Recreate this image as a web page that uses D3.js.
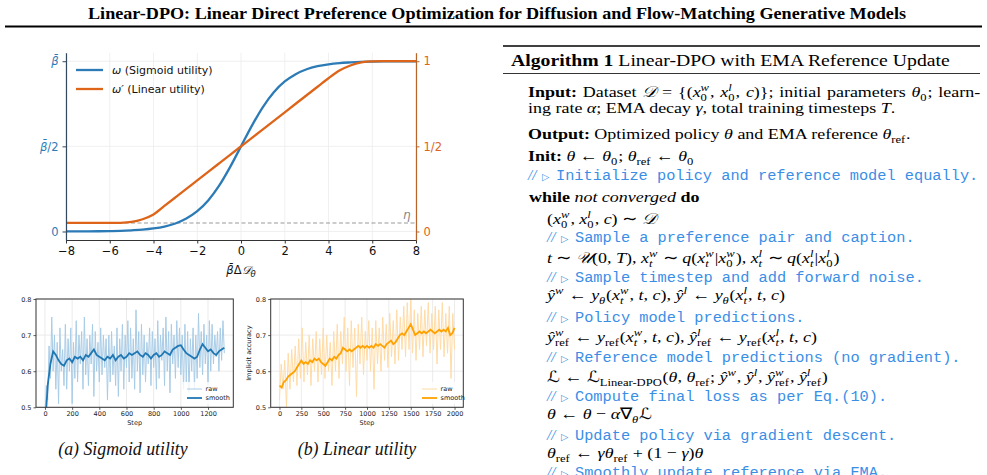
<!DOCTYPE html>
<html>
<head>
<meta charset="utf-8">
<script src="https://cdn.jsdelivr.net/npm/d3@7"></script>
<style>
body { margin: 0; background: #fff; }
svg text { white-space: pre; }
</style>
</head>
<body>
<div id="page"></div>
<script>
// ---- top chart: utility weights ----
const uX = [-8,-7.5,-7,-6.5,-6,-5.5,-5,-4.5,-4,-3.5,-3,-2.5,-2,-1.5,-1,-0.5,0,0.5,1,1.5,2,2.5,3,3.5,4,4.5,5,5.5,6,6.5,7,7.5,8];
const sigmoidW = [0.0003,0.0006,0.0009,0.0015,0.0025,0.004,0.007,0.011,0.018,0.029,0.047,0.076,0.119,0.182,0.269,0.378,0.5,0.622,0.731,0.818,0.881,0.924,0.953,0.971,0.982,0.989,0.993,0.996,0.9975,0.9985,0.9991,0.9994,0.9997];
const linearW = [0.05,0.05,0.05,0.05,0.05,0.051,0.056,0.072,0.10,0.15,0.20,0.25,0.30,0.35,0.40,0.45,0.5,0.55,0.60,0.65,0.70,0.75,0.80,0.85,0.90,0.945,0.975,0.993,0.999,1,1,1,1];
const eta = 0.05;
const uXTicks = [-8,-6,-4,-2,0,2,4,6,8];
const uYTicks = [0,0.5,1];
const leftTickLabels = [['0',''],['β̄','/2'],['β̄','']];
const rightTickLabels = ['0','1/2','1'];
const utilLegend = [['ω',' (Sigmoid utility)'],['ω′',' (Linear utility)']];

// ---- bottom charts: implicit accuracy ----
const accYTicks = [0.5,0.6,0.7,0.8];
const sigTicks = [0,200,400,600,800,1000,1200];
const linTicks = [0,250,500,750,1000,1250,1500,1750,2000];
const sigRawStep = 10;
const sigRaw = [0.48,0.56,0.52,0.67,0.58,0.75,0.60,0.70,0.55,0.68,0.51,0.72,0.60,0.66,0.56,0.73,0.55,0.69,0.60,0.72,
  0.51,0.68,0.58,0.74,0.57,0.70,0.62,0.71,0.55,0.75,0.59,0.69,0.56,0.70,0.62,0.73,0.53,0.71,0.60,0.68,
  0.57,0.72,0.59,0.70,0.61,0.69,0.52,0.70,0.57,0.71,0.59,0.67,0.56,0.72,0.53,0.69,0.60,0.73,0.55,0.70,
  0.61,0.74,0.57,0.72,0.58,0.69,0.55,0.77,0.60,0.71,0.54,0.73,0.59,0.70,0.57,0.68,0.62,0.72,0.56,0.71,
  0.61,0.69,0.55,0.74,0.58,0.70,0.63,0.72,0.56,0.75,0.60,0.71,0.54,0.73,0.62,0.70,0.58,0.74,0.61,0.72,
  0.59,0.70,0.55,0.73,0.57,0.71,0.54,0.69,0.60,0.72,0.55,0.70,0.58,0.76,0.61,0.71,0.59,0.73,0.62,0.70,
  0.56,0.74,0.60,0.73,0.62,0.70,0.64,0.71,0.60,0.72,0.63,0.74,0.65];
const sigSmoothStep = 20;
const sigSmooth = [0.44,0.56,0.62,0.655,0.645,0.63,0.62,0.615,0.63,0.635,0.625,0.64,0.635,0.64,0.63,0.645,0.64,0.65,0.66,0.645,
  0.64,0.635,0.63,0.64,0.635,0.645,0.63,0.64,0.645,0.635,0.64,0.65,0.645,0.65,0.655,0.645,0.64,0.65,0.645,0.635,
  0.645,0.65,0.64,0.645,0.655,0.65,0.645,0.66,0.665,0.67,0.672,0.66,0.65,0.645,0.64,0.635,0.64,0.66,0.675,0.665,
  0.655,0.66,0.65,0.645,0.655,0.66,0.665];
const linRawStep = 20;
const linRaw = [0.52,0.62,0.55,0.63,0.50,0.65,0.55,0.66,0.57,0.67,0.56,0.69,0.58,0.72,0.57,0.68,0.59,0.70,0.56,0.69,
  0.60,0.71,0.57,0.69,0.59,0.72,0.58,0.70,0.60,0.68,0.56,0.71,0.60,0.73,0.58,0.71,0.62,0.75,0.60,0.72,
  0.56,0.74,0.61,0.72,0.53,0.73,0.62,0.75,0.59,0.71,0.63,0.74,0.60,0.72,0.55,0.74,0.62,0.72,0.60,0.75,
  0.63,0.73,0.61,0.76,0.64,0.74,0.62,0.77,0.63,0.75,0.66,0.78,0.64,0.79,0.66,0.80,0.65,0.77,0.63,0.76,
  0.66,0.78,0.64,0.77,0.67,0.79,0.65,0.76,0.66,0.78,0.62,0.77,0.66,0.79,0.64,0.76,0.65,0.78,0.58,0.76,0.66];
const linSmoothStep = 25;
const linSmooth = [0.56,0.555,0.57,0.575,0.585,0.59,0.595,0.60,0.61,0.62,0.63,0.62,0.625,0.62,0.63,0.625,0.635,0.63,0.635,0.625,
  0.62,0.615,0.625,0.635,0.63,0.64,0.635,0.645,0.65,0.665,0.66,0.655,0.66,0.655,0.66,0.665,0.67,0.665,0.67,0.665,
  0.67,0.665,0.67,0.665,0.675,0.67,0.675,0.67,0.665,0.675,0.68,0.685,0.675,0.68,0.69,0.70,0.705,0.70,0.71,0.72,
  0.73,0.715,0.70,0.705,0.71,0.705,0.71,0.705,0.71,0.715,0.71,0.705,0.71,0.715,0.71,0.715,0.71,0.72,0.70,0.705,0.72];

const TITLE = 'Linear-DPO: Linear Direct Preference Optimization for Diffusion and Flow-Matching Generative Models';
const SERIF = "'Liberation Serif','Times New Roman',serif";
const SANS = "'DejaVu Sans',sans-serif";
const MONO = "'Liberation Mono','Courier New',monospace";
const CAL = "'DejaVu Serif','DejaVu Sans','Noto Sans',serif";
const BLUE = '#2c7bb6', ORANGE = '#dd6418';

const svg = d3.select('#page').append('svg').attr('width', 987).attr('height', 475);
svg.append('rect').attr('width', 987).attr('height', 475).attr('fill', '#fff');

svg.append('text').attr('x', 497).attr('y', 19).attr('text-anchor', 'middle')
  .attr('font-family', SERIF).attr('font-weight', 'bold').attr('font-size', 16.5)
  .attr('textLength', 818).attr('lengthAdjust', 'spacingAndGlyphs').text(TITLE);
svg.append('line').attr('x1', 5).attr('x2', 982).attr('y1', 26.5).attr('y2', 26.5)
  .attr('stroke', '#000').attr('stroke-width', 2);

// ---------------- top chart ----------------
const tx = d3.scaleLinear().domain([-8, 8]).range([66, 416]);
const ty = d3.scaleLinear().domain([-0.05, 1.05]).range([240, 52.7]);
const topG = svg.append('g');

topG.selectAll('.gx').data(uXTicks).join('line')
  .attr('x1', d => tx(d)).attr('x2', d => tx(d)).attr('y1', ty(1.05)).attr('y2', ty(-0.05))
  .attr('stroke', '#ececec').attr('stroke-width', 0.8);
topG.selectAll('.gy').data(uYTicks).join('line')
  .attr('x1', tx(-8)).attr('x2', tx(8)).attr('y1', d => ty(d)).attr('y2', d => ty(d))
  .attr('stroke', '#ececec').attr('stroke-width', 0.8);

topG.append('line').attr('x1', tx(-8)).attr('x2', tx(8)).attr('y1', ty(eta)).attr('y2', ty(eta))
  .attr('stroke', '#999').attr('stroke-width', 1.1).attr('stroke-dasharray', '4,2.5');
topG.append('text').attr('x', 403).attr('y', 219).attr('font-family', SANS).attr('font-style', 'italic')
  .attr('font-size', 12).attr('fill', '#888').text('η');

const uLine = d3.line().x((d, i) => tx(uX[i])).y(d => ty(d)).curve(d3.curveMonotoneX);
topG.append('path').attr('d', uLine(sigmoidW)).attr('fill', 'none').attr('stroke', BLUE).attr('stroke-width', 2.3);
topG.append('path').attr('d', uLine(linearW)).attr('fill', 'none').attr('stroke', ORANGE).attr('stroke-width', 2.3);

const axB = topG.append('g').attr('transform', `translate(0,${ty(-0.05)})`)
  .call(d3.axisBottom(tx).tickValues(uXTicks).tickSize(3.5).tickSizeOuter(0).tickPadding(3));
axB.select('.domain').attr('stroke', '#333').attr('stroke-width', 1.2);
axB.selectAll('.tick line').attr('stroke', '#333');
axB.selectAll('text').attr('font-family', SANS).attr('font-size', 11.5).attr('fill', '#111');

const axL = topG.append('g').attr('transform', `translate(${tx(-8)},0)`)
  .call(d3.axisLeft(ty).tickValues(uYTicks).tickSize(3.5).tickSizeOuter(0).tickPadding(4).tickFormat(''));
axL.select('.domain').attr('stroke', '#34495e').attr('stroke-width', 1.2);
axL.selectAll('.tick line').attr('stroke', '#34495e');
axL.selectAll('.tick text').each(function (d, i) {
  const t = d3.select(this).attr('font-family', SANS).attr('font-size', 11.5).attr('fill', BLUE);
  const parts = leftTickLabels[i];
  t.append('tspan').attr('font-style', parts[0] === '0' ? 'normal' : 'italic').text(parts[0]);
  if (parts[1]) t.append('tspan').text(parts[1]);
});

const axR = topG.append('g').attr('transform', `translate(${tx(8)},0)`)
  .call(d3.axisRight(ty).tickValues(uYTicks).tickSize(3.5).tickSizeOuter(0).tickPadding(4)
    .tickFormat((d, i) => rightTickLabels[i]));
axR.select('.domain').attr('stroke', '#b8652c').attr('stroke-width', 1.2);
axR.selectAll('.tick line').attr('stroke', '#b8652c');
axR.selectAll('text').attr('font-family', SANS).attr('font-size', 11.5).attr('fill', ORANGE);

// x label
const xl = topG.append('text').attr('x', tx(0)).attr('y', 274).attr('text-anchor', 'middle')
  .attr('font-family', SANS).attr('font-size', 11.5).attr('fill', '#111');
xl.append('tspan').attr('font-style', 'italic').text('β̄');
xl.append('tspan').text('Δ');
xl.append('tspan').attr('font-family', CAL).attr('font-style', 'italic').text('𝒟');
xl.append('tspan').attr('font-style', 'italic').attr('font-size', 8.5).attr('dy', 2.5).text('θ');

// legend
[BLUE, ORANGE].forEach((c, i) => {
  const ly = 70 + i * 19;
  topG.append('line').attr('x1', 76).attr('x2', 103).attr('y1', ly).attr('y2', ly)
    .attr('stroke', c).attr('stroke-width', 2.3);
  const t = topG.append('text').attr('x', 112).attr('y', ly + 4).attr('font-family', SANS)
    .attr('font-size', 11).attr('fill', '#111');
  t.append('tspan').attr('font-style', 'italic').text(utilLegend[i][0]);
  t.append('tspan').text(utilLegend[i][1]);
});

// ---------------- bottom charts ----------------
function accChart(o) {
  const x = d3.scaleLinear().domain(o.xDomain).range([o.left, o.right]);
  const y = d3.scaleLinear().domain([0.5, 0.8]).range([o.bottom, o.top]);
  const g = svg.append('g');
  const clipId = 'clip' + o.id;
  g.append('clipPath').attr('id', clipId).append('rect')
    .attr('x', o.left).attr('y', o.top).attr('width', o.right - o.left).attr('height', o.bottom - o.top);

  g.selectAll('.vg').data(o.xTicks).join('line')
    .attr('x1', d => x(d)).attr('x2', d => x(d)).attr('y1', o.top).attr('y2', o.bottom)
    .attr('stroke', '#e6e6e6').attr('stroke-width', 0.8);
  g.selectAll('.hg').data(accYTicks).join('line')
    .attr('x1', o.left).attr('x2', o.right).attr('y1', d => y(d)).attr('y2', d => y(d))
    .attr('stroke', '#e6e6e6').attr('stroke-width', 0.8);

  const plot = g.append('g').attr('clip-path', `url(#${clipId})`);
  plot.append('path')
    .attr('d', d3.line().x((d, i) => x(i * o.rawStep)).y(d => y(d))(o.raw))
    .attr('fill', 'none').attr('stroke', o.rawColor).attr('stroke-width', 1);
  plot.append('path')
    .attr('d', d3.line().x((d, i) => x(i * o.smoothStep)).y(d => y(d))(o.smooth))
    .attr('fill', 'none').attr('stroke', o.smoothColor).attr('stroke-width', 1.8);

  g.append('rect').attr('x', o.left).attr('y', o.top).attr('width', o.right - o.left)
    .attr('height', o.bottom - o.top).attr('fill', 'none').attr('stroke', '#333').attr('stroke-width', 1);

  const ax = g.append('g').attr('transform', `translate(0,${o.bottom})`)
    .call(d3.axisBottom(x).tickValues(o.xTicks).tickSize(2.5).tickSizeOuter(0).tickPadding(2).tickFormat(d3.format('d')));
  const ay = g.append('g').attr('transform', `translate(${o.left},0)`)
    .call(d3.axisLeft(y).tickValues(accYTicks).tickSize(2.5).tickSizeOuter(0).tickPadding(2).tickFormat(d3.format('.1f')));
  [ax, ay].forEach(a => {
    a.select('.domain').remove();
    a.selectAll('.tick line').attr('stroke', '#333').attr('stroke-width', 0.8);
    a.selectAll('text').attr('font-family', SANS).attr('font-size', 6.5).attr('fill', '#222');
  });

  g.append('text').attr('x', (o.left + o.right) / 2).attr('y', 425).attr('text-anchor', 'middle')
    .attr('font-family', SANS).attr('font-size', 6.5).attr('fill', '#222').text('Step');
  if (o.ylabelX != null) {
    g.append('text').attr('transform', `translate(${o.ylabelX},${(o.top + o.bottom) / 2}) rotate(-90)`)
      .attr('text-anchor', 'middle').attr('font-family', SANS).attr('font-size', 6.5).attr('fill', '#222')
      .text('Implicit accuracy');
  }

  g.append('rect').attr('x', o.legendX - 4).attr('y', 382).attr('width', o.right - o.legendX + 1)
    .attr('height', 22).attr('fill', '#fff').attr('opacity', 0.8);
  [['raw', o.rawColor, 1], ['smooth', o.smoothColor, 1.8]].forEach((l, i) => {
    const ly = 389 + i * 9;
    g.append('line').attr('x1', o.legendX).attr('x2', o.legendX + 15).attr('y1', ly).attr('y2', ly)
      .attr('stroke', l[1]).attr('stroke-width', l[2]);
    g.append('text').attr('x', o.legendX + 18.5).attr('y', ly + 2.3).attr('font-family', SANS)
      .attr('font-size', 6.5).attr('fill', '#222').text(l[0]);
  });

  g.append('text').attr('x', o.captionX).attr('y', 455).attr('text-anchor', 'middle')
    .attr('font-family', SERIF).attr('font-style', 'italic').attr('font-size', 17.8).attr('fill', '#111')
    .text(o.caption);
}

accChart({ id: 'a', left: 36, right: 233.3, top: 299, bottom: 407.3, xDomain: [-66, 1386], xTicks: sigTicks,
  raw: sigRaw, rawStep: sigRawStep, smooth: sigSmooth, smoothStep: sigSmoothStep,
  rawColor: '#a9cce6', smoothColor: '#1f77b4', legendX: 187, ylabelX: null, captionX: 123,
  caption: '(a) Sigmoid utility' });
accChart({ id: 'b', left: 270.7, right: 463.3, top: 299, bottom: 407.3, xDomain: [-100, 2100], xTicks: linTicks,
  raw: linRaw, rawStep: linRawStep, smooth: linSmooth, smoothStep: linSmoothStep,
  rawColor: '#ffdba6', smoothColor: '#ffa200', legendX: 422, ylabelX: 251, captionX: 357,
  caption: '(b) Linear utility' });

// ---------------- algorithm block ----------------
const R = t => ({ t, f: 'r' }), I = t => ({ t, f: 'i' }), B = t => ({ t, f: 'b' }), C = t => ({ t, f: 'c' });
const SUB = (t, f = 'r') => ({ t, f, sub: true });
const SUP = (t, f = 'i') => ({ t, f, sup: true });
const SS = (sb, sp, fb = 'r', fp = 'i') => ({ stack: true, sb, sp, fb, fp });
const SX = 1.16; // horizontal stretch of the typeset block

const alg = svg.append('g');
function put(t, f, x, y, fs) {
  const el = alg.append('text').attr('transform', `translate(${x},${y}) scale(${SX},1)`)
    .attr('font-size', fs).attr('fill', '#000').text(t);
  if (f === 'i') el.attr('font-family', SERIF).attr('font-style', 'italic');
  else if (f === 'b') el.attr('font-family', SERIF).attr('font-weight', 'bold');
  else if (f === 'c') el.attr('font-family', CAL).attr('font-style', 'italic');
  else el.attr('font-family', SERIF);
  return el.node().getComputedTextLength() * SX;
}
function spaceW(fs) {
  const el = alg.append('text').attr('font-family', SERIF).attr('font-size', fs).text('a a');
  const w2 = el.node().getComputedTextLength();
  el.text('aa');
  const w1 = el.node().getComputedTextLength();
  el.remove();
  return (w2 - w1) * SX;
}
function mathLine(x, y, toks, fs = 15.5, target = null) {
  let extra = 0;
  if (target) {
    const mark = alg.selectAll('text').size();
    const natural = mathLine(x, y, toks, fs) - x;
    alg.selectAll('text').filter((d, i) => i >= mark).remove();
    const nSpaces = toks.filter(k => k.f === 'r' && !k.sub && !k.sup && !k.stack)
      .reduce((s, k) => s + (k.t.match(/ /g) || []).length, 0);
    extra = (target - natural) / nSpaces;
  }
  let cx = x;
  const s = fs * 0.7;
  const sw = spaceW(fs);
  toks.forEach(k => {
    if (k.stack) {
      const w1 = put(k.sp, k.fp, cx, y - fs * 0.4, s);
      const w2 = put(k.sb, k.fb, cx, y + fs * 0.27, s);
      cx += Math.max(w1, w2) + 1;
    } else if (k.sub) cx += put(k.t, k.f, cx, y + fs * 0.25, s) + 0.8;
    else if (k.sup) cx += put(k.t, k.f, cx, y - fs * 0.4, s) + 0.8;
    else if (extra && k.f === 'r') {
      k.t.split(' ').forEach((w, j) => {
        if (j > 0) cx += sw + extra;
        if (w) cx += put(w, k.f, cx, y, fs);
      });
    } else cx += put(k.t, k.f, cx, y, fs);
  });
  return cx;
}
function comment(x, y, txt) {
  alg.append('text').attr('x', x).attr('y', y).attr('font-family', SERIF).attr('font-style', 'italic')
    .attr('font-size', 15).attr('fill', '#3a8ee6').text('//');
  alg.append('text').attr('x', x + 14).attr('y', y - 0.5).attr('font-family', SANS)
    .attr('font-size', 9.5).attr('fill', '#3a8ee6').text('▷');
  alg.append('text').attr('x', x + 28).attr('y', y).attr('font-family', MONO)
    .attr('font-size', 15.3).attr('fill', '#3a8ee6').text(txt);
}

alg.append('line').attr('x1', 503).attr('x2', 980).attr('y1', 46).attr('y2', 46).attr('stroke', '#000').attr('stroke-width', 1.4);
alg.append('line').attr('x1', 503).attr('x2', 980).attr('y1', 73.5).attr('y2', 73.5).attr('stroke', '#000').attr('stroke-width', 0.8);
mathLine(511, 66, [B('Algorithm 1'), R(' Linear-DPO with EMA Reference Update')], 17);

mathLine(528, 97, [B('Input:'), R(' Dataset '), C('𝒟'), R(' = {('), I('x'), SS('0', 'w'), R(', '), I('x'), SS('0', 'l'),
  R(', '), I('c'), R(')}; initial parameters '), I('θ'), SUB('0'), R('; learn-')], 15.5, 980 - 528);
mathLine(528, 113, [R('ing rate '), I('α'), R('; EMA decay '), I('γ'), R(', total training timesteps '), I('T'), R('.')]);
mathLine(528, 139, [B('Output:'), R(' Optimized policy '), I('θ'), R(' and EMA reference '), I('θ'), SUB('ref'), R('.')]);
mathLine(528, 161, [B('Init:'), R(' '), I('θ'), R(' ← '), I('θ'), SUB('0'), R('; '), I('θ'), SUB('ref'), R(' ← '), I('θ'), SUB('0')]);
comment(528, 180, 'Initialize policy and reference model equally.');
mathLine(529, 202, [B('while'), R(' '), I('not converged'), R(' '), B('do')]);

const ix = 547;
mathLine(ix, 224, [R('('), I('x'), SS('0', 'w'), R(', '), I('x'), SS('0', 'l'), R(', '), I('c'), R(') ∼ '), C('𝒟')]);
comment(ix, 242, 'Sample a preference pair and caption.');
mathLine(ix, 263, [I('t'), R(' ∼ '), C('𝒰'), R('(0, '), I('T'), R('), '), I('x'), SS('t', 'w', 'i'), R(' ∼ '), I('q'), R('('),
  I('x'), SS('t', 'w', 'i'), R('|'), I('x'), SS('0', 'w'), R('), '), I('x'), SS('t', 'l', 'i'), R(' ∼ '), I('q'), R('('),
  I('x'), SS('t', 'l', 'i'), R('|'), I('x'), SS('0', 'l'), R(')')]);
comment(ix, 282, 'Sample timestep and add forward noise.');
mathLine(ix, 300, [I('ŷ'), SUP('w'), R(' ← '), I('y'), SUB('θ', 'i'), R('('), I('x'), SS('t', 'w', 'i'), R(', '), I('t'), R(', '),
  I('c'), R('), '), I('ŷ'), SUP('l'), R(' ← '), I('y'), SUB('θ', 'i'), R('('), I('x'), SS('t', 'l', 'i'), R(', '), I('t'), R(', '),
  I('c'), R(')')]);
comment(ix, 322, 'Policy model predictions.');
mathLine(ix, 342, [I('ŷ'), SS('ref', 'w'), R(' ← '), I('y'), SUB('ref'), R('('), I('x'), SS('t', 'w', 'i'), R(', '), I('t'), R(', '),
  I('c'), R('), '), I('ŷ'), SS('ref', 'l'), R(' ← '), I('y'), SUB('ref'), R('('), I('x'), SS('t', 'l', 'i'), R(', '), I('t'), R(', '),
  I('c'), R(')')]);
comment(ix, 362, 'Reference model predictions (no gradient).');
mathLine(ix, 382, [C('ℒ'), R(' ← '), C('ℒ'), SUB('Linear-DPO'), R('('), I('θ'), R(', '), I('θ'), SUB('ref'), R('; '), I('ŷ'), SUP('w'),
  R(', '), I('ŷ'), SUP('l'), R(', '), I('ŷ'), SS('ref', 'w'), R(', '), I('ŷ'), SS('ref', 'l'), R(')')]);
comment(ix, 401, 'Compute final loss as per Eq.(10).');
mathLine(ix, 419, [I('θ'), R(' ← '), I('θ'), R(' − '), I('α'), R('∇'), SUB('θ', 'i'), C('ℒ')]);
comment(ix, 440, 'Update policy via gradient descent.');
mathLine(ix, 458, [I('θ'), SUB('ref'), R(' ← '), I('γθ'), SUB('ref'), R(' + (1 − '), I('γ'), R(')'), I('θ')]);
comment(ix, 477, 'Smoothly update reference via EMA.');
</script>
</body>
</html>
